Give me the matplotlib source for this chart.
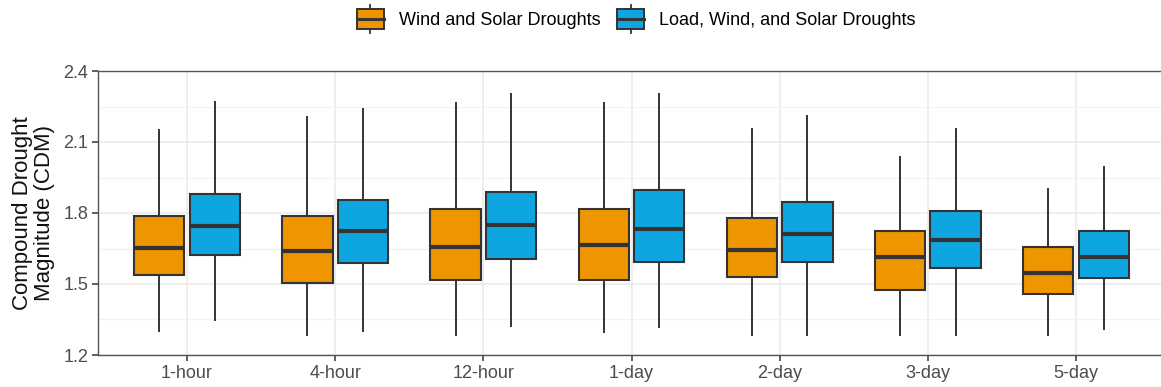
import matplotlib
matplotlib.use("Agg")
import matplotlib.pyplot as plt
from matplotlib.legend_handler import HandlerBase
from matplotlib.patches import Rectangle, Patch
from matplotlib.lines import Line2D

plt.rcParams['font.family'] = ['Liberation Sans', 'DejaVu Sans']

durations = ["1-hour", "4-hour", "12-hour", "1-day", "2-day", "3-day", "5-day"]

# whisker low, Q1, median, Q3, whisker high
ws_low = [1.301, 1.285, 1.285, 1.297, 1.285, 1.285, 1.285]
ws_q1 = [1.538, 1.504, 1.517, 1.517, 1.530, 1.475, 1.459]
ws_med = [1.652, 1.639, 1.656, 1.665, 1.644, 1.614, 1.545]
ws_q3 = [1.787, 1.787, 1.817, 1.817, 1.779, 1.724, 1.655]
ws_high = [2.151, 2.206, 2.265, 2.265, 2.155, 2.037, 1.900]

lws_low = [1.348, 1.301, 1.323, 1.318, 1.285, 1.285, 1.308]
lws_q1 = [1.623, 1.589, 1.606, 1.593, 1.593, 1.568, 1.524]
lws_med = [1.745, 1.724, 1.749, 1.732, 1.711, 1.686, 1.613]
lws_q3 = [1.880, 1.855, 1.889, 1.897, 1.846, 1.808, 1.723]
lws_high = [2.269, 2.239, 2.303, 2.303, 2.210, 2.155, 1.996]

labels = ["Wind and Solar Droughts", "Load, Wind, and Solar Droughts"]
colors = ["#EE9500", "#0EA6E1"]
edge = "#333333"


def make_stats(low, q1, med, q3, high):
    return [dict(whislo=a, q1=b, med=c, q3=d, whishi=e, fliers=[])
            for a, b, c, d, e in zip(low, q1, med, q3, high)]


class BoxKey(HandlerBase):
    # little boxplot glyph for the legend
    def create_artists(self, legend, orig, xd, yd, w, h, fs, trans):
        c = orig.get_facecolor()
        x0, y0 = -xd, -yd
        r = Rectangle((x0, y0), w, h, facecolor=c, edgecolor=edge, lw=1.4, transform=trans)
        m = Line2D([x0, x0 + w], [y0 + h / 2] * 2, color=edge, lw=2.2, transform=trans)
        t = Line2D([x0 + w / 2] * 2, [y0 + h, y0 + h * 1.2], color=edge, lw=1.3, transform=trans)
        b = Line2D([x0 + w / 2] * 2, [y0, y0 - h * 0.2], color=edge, lw=1.3, transform=trans)
        return [t, b, r, m]


fig = plt.figure(figsize=(11.61, 3.87), dpi=100)
ax = fig.add_axes([98 / 1161, 32 / 387, 1067 / 1161, 284 / 387])

groups = [make_stats(ws_low, ws_q1, ws_med, ws_q3, ws_high),
          make_stats(lws_low, lws_q1, lws_med, lws_q3, lws_high)]
offsets = [-0.1875, 0.1875]
for stats, off, col in zip(groups, offsets, colors):
    pos = [i + off for i in range(len(durations))]
    ax.bxp(stats, positions=pos, widths=0.34, patch_artist=True, showcaps=False,
           showfliers=False, manage_ticks=False,
           boxprops=dict(facecolor=col, edgecolor=edge, linewidth=1.5),
           medianprops=dict(color=edge, linewidth=3.0, solid_capstyle='butt'),
           whiskerprops=dict(color=edge, linewidth=1.4))

ax.set_xlim(-0.6, len(durations) - 0.4)
ax.set_ylim(1.2, 2.4)
ax.set_xticks(range(len(durations)))
ax.set_xticklabels(durations)
ax.set_yticks([1.2, 1.5, 1.8, 2.1, 2.4])
ax.set_yticklabels(["1.2", "1.5", "1.8", "2.1", "2.4"])
ax.set_yticks([1.35, 1.65, 1.95, 2.25], minor=True)
ax.grid(True, which='major', color='#EBEBEB', lw=1.2)
ax.grid(True, which='minor', axis='y', color='#F2F2F2', lw=0.9)
ax.set_axisbelow(True)
ax.tick_params(axis='both', which='major', labelsize=13, colors='#333333',
               labelcolor='#4D4D4D', length=4, width=1.1, pad=3)
ax.tick_params(axis='y', which='minor', length=0)
for s in ['left', 'bottom', 'top']:
    ax.spines[s].set_color('#555555')
    ax.spines[s].set_linewidth(1.0)
ax.spines['right'].set_visible(False)
ax.set_ylabel("Compound Drought\nMagnitude (CDM)", fontsize=16, color='#111111', labelpad=6,
              linespacing=1.05)

handles = [Patch(facecolor=c) for c in colors]
fig.legend(handles, labels, loc='center', bbox_to_anchor=(0.548, 0.951), ncol=2, frameon=False,
           fontsize=13, handler_map={Patch: BoxKey()}, handlelength=1.5, handleheight=1.3,
           handletextpad=0.83, columnspacing=0.95)

fig.savefig("out.png", dpi=100)
